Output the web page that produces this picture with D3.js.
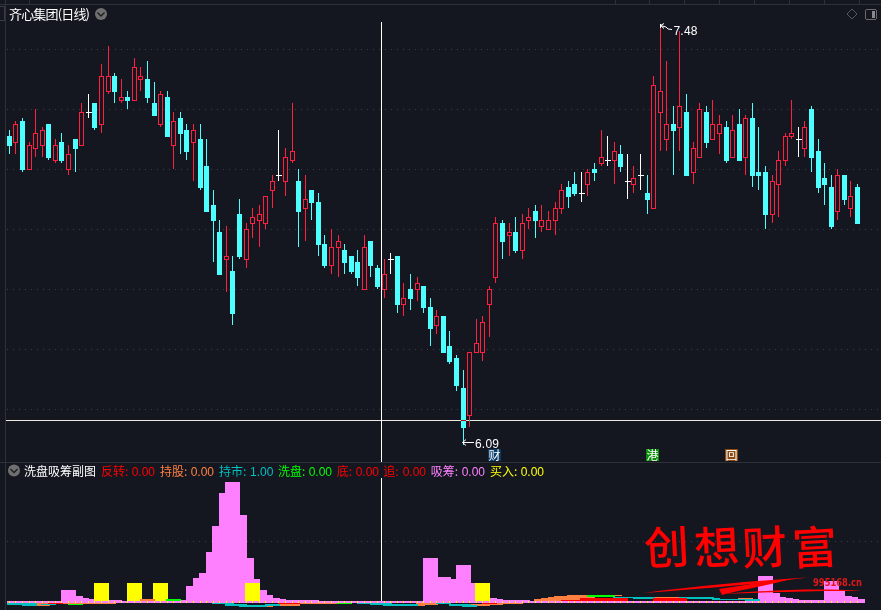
<!DOCTYPE html>
<html><head><meta charset="utf-8">
<script src="https://cdn.jsdelivr.net/npm/d3@7/dist/d3.min.js"></script>
<style>html,body{margin:0;padding:0;background:#141720;overflow:hidden}svg{display:block}
text{font-family:"Noto Sans CJK SC","Liberation Sans",sans-serif}</style></head><body>
<div id="chart"></div>
<script>
// prices in fen (1/100 yuan)
const opens=[712,710,717,701,708,709,716,704,710,701,711,709,720,723,716,727,732,724,725,724,731,731,723,716,725,709,718,714,710,711,702,689,680,671,667,686,671,683,684,683,694,699,697,704,697,688,694,690,676,669,675,674,672,670,661,677,668,661,671,672,656,661,661,662,655,649,652,642,638,628,619,640,640,656,665,683,679,680,674,684,687,682,681,684,688,695,696,693,696,701,703,704,704,706,697,696,699,693,688,720,711,716,715,720,700,705,720,711,713,715,705,716,705,718,700,700,686,696,704,712,711,708,721,707,698,695,687,699,688,695];
const closes=[709,716,701,709,713,714,705,709,704,706,708,720,720,715,732,732,727,725,724,735,732,725,719,726,712,717,713,707,714,695,687,684,666,672,653,672,681,685,686,692,697,699,705,707,687,691,690,676,669,675,677,670,667,665,675,669,662,666,671,656,658,658,663,655,648,652,640,637,629,615,640,643,650,661,683,677,680,674,683,685,684,684,684,688,694,692,693,693,700,700,705,704,707,702,697,698,699,691,729,727,716,714,722,699,708,721,710,716,716,704,714,704,718,699,699,686,697,704,712,713,711,715,705,695,696,682,699,691,692,683];
const highs=[714,717,718,710,721,715,716,711,713,709,711,723,726,723,736,742,733,731,727,738,735,737,730,727,727,720,720,716,716,716,711,694,684,682,672,691,683,688,689,692,699,714,708,723,701,699,694,693,679,681,679,676,672,674,679,677,669,671,673,672,663,666,665,662,658,654,652,647,639,634,640,651,652,662,685,684,683,685,686,688,689,689,687,690,696,697,700,700,701,703,714,712,710,709,706,702,706,699,732,748,737,722,747,726,710,723,722,724,719,717,719,721,719,723,715,702,699,707,713,724,715,717,722,711,703,699,701,699,697,696];
const lows=[706,706,700,701,705,705,704,703,703,699,700,709,718,714,713,726,723,723,721,724,727,723,719,715,712,701,706,704,697,694,687,670,666,660,649,671,668,678,675,681,688,697,692,703,675,677,684,672,668,666,665,666,666,662,661,665,661,658,666,653,652,654,657,653,642,646,640,636,627,609,615,640,637,645,663,671,672,673,671,681,678,680,681,679,686,688,692,690,692,697,702,702,696,700,691,693,694,686,688,707,707,699,707,699,696,705,708,711,706,703,705,704,699,695,694,681,683,685,702,711,705,705,700,693,689,681,684,689,685,683];

// indicator sticks: [candle index, from, to]
const pinkPeaks=[[9,11.7],[10,5.7],[11,3.7],[12,2.7],[13,2],[14,1.7],[15,1.7],[16,1.7],[24,1.7],[25,1.7],[26,1.7],[27,1.7],[28,15.7],[29,23.7],[30,28.7],[31,49.7],[32,75.7],[33,108.7],[34,119.7],[35,86.7],[36,43.7],[37,22.7],[38,11.7],[39,6.7],[40,3.7],[41,2.7],[42,1.7],[43,1.7],[44,1.7],[45,1.7],[46,1.7],[64,43.7],[65,24.7],[66,24.7],[67,22.7],[68,22.7],[69,36.7],[70,18.7],[71,18.7],[72,18.7],[73,3.7],[74,2.7],[75,1.7],[76,1.7],[77,1.7],[78,1.7],[115,25.3],[116,8.5],[117,4.5],[118,3.5],[119,2.5],[120,1.5],[121,1.5],[122,1.5],[123,1.5],[124,1.5],[125,20.5],[126,10.5],[127,5.5],[128,4.5],[129,2.5]];
const yellowBuys=[[14,18.7],[19,18.7],[23,18.7],[37,18.7],[72,18.7]];
const orangeBands=[[5,-4.3,-1.7],[9,-2.7,-.5],[10,-2.7,-.5],[11,-2.7,-.5],[12,-2,-.3],[13,-2,-.3],[14,-2,-.3],[15,-2,-.3],[16,-1.3,-.3],[17,-1.3,-.3],[18,-1.3,-.3],[21,.5,3],[39,-5.3,-3.3],[42,-4,-2.3],[43,-4,-2.3],[44,-2.7,-1.3],[45,-2.7,-1.3],[46,-2.7,-1.3],[47,-2.7,-1.3],[48,-2,-.7],[49,-2,-.7],[52,-1.7,-.7],[62,-4.3,-2.5],[63,-3,-1.8],[64,-3,-1.8],[71,-4.3,-2.5],[72,-4.3,-2.5],[73,-3.3,-2],[74,-3.3,-2],[75,-2.7,-.8],[76,-2.7,-.8],[77,-2.7,-.8],[78,-1.5,-.3],[81,.7,2.7],[82,.7,3.7],[83,.7,4.7],[84,.7,5.7],[85,.7,5.7],[86,.7,6.7],[87,.7,6.7],[88,.7,6.7],[92,5.5,6.5],[99,4,5],[100,4,5],[101,4,5],[112,2.7,4]];
const greenBands=[[10,-3.7,-2.7],[25,.5,2.7],[51,-2.3,-.3],[53,-1.7,-.3],[89,4.3,6.5],[90,4.3,6.5],[91,4.3,6.5]];
const tealBands=[[0,-3,-1],[1,-3,-1],[3,-4.3,-1.7],[6,-3.3,-2.3],[30,-1.7,-.3],[31,-1.7,-.3],[32,-2.7,-1.3],[33,-2.7,-1.3],[34,-4,-2],[35,-4,-2],[36,-5.3,-3.3],[37,-5.3,-3.3],[38,-5,-3],[40,-4,-2.5],[54,-2.3,-.7],[55,-2.3,-.7],[56,-3,-1.5],[57,-3.5,-1.7],[58,-4.3,-2.5],[59,-4.3,-2.5],[60,-4.3,-2.5],[61,-4.3,-2.5],[66,-2.5,-1.3],[68,-4,-2.3],[69,-4,-2.3],[70,-5.3,-3.3],[93,3.7,4.3],[94,4,5],[95,4,5],[96,3,5],[97,3,5],[103,3,5],[104,3,5],[105,3,5],[106,3,5],[107,2.7,4],[108,1.7,3],[109,1.7,3],[110,1.7,3],[111,1.7,3],[113,1,2.7],[125,-1.3,-.7],[126,-1.3,-.7],[127,-1.3,-.7],[128,-1.3,-.7],[129,-1.3,-.7]];
const redBands=[[7,-2.5,-.3],[42,-2.3,-.3],[43,-2.3,-.3],[44,-1.3,-.3],[45,-1.3,-.3],[46,-1.3,-.3],[47,-1.3,-.3],[73,-2,-.3],[85,.7,1.7],[86,.7,1.7],[87,.7,1.7],[88,.7,3.3],[89,.7,3.3],[90,.7,3.3],[91,.7,3.3],[92,.7,3.3],[93,.7,3.3],[99,.7,4],[100,.7,4],[101,.7,4],[102,.7,4]];

const legendLabels=["反转:","持股:","持市:","洗盘:","底:","追:","吸筹:","买入:"];
const legendValues=["0.00","0.00","1.00","0.00","0.00","0.00","0.00","0.00"];
const legendColors=["#ff0000","#ff8040","#00c0c0","#00ff00","#ff0000","#ff0000","#ff80ff","#ffff00"];
const legendLabelX=[101,160,219,278,336.7,383.3,430.7,490];
const legendValueX=[131.7,190.7,250,308.7,355.7,402.7,461.7,520.7];

const W=881,H=610,BG="#141720",RED="#ff2040",CYAN="#4dffff",LINE="#2e3138",GRID="#3b3e46";
const svg=d3.select("#chart").append("svg").attr("width",W).attr("height",H).style("background",BG);
const x=d3.scaleLinear().domain([0,129]).range([9.4,857.5]);
const y=d3.scaleLinear().domain([609,748]).range([445,28]);
const sy=d3.scaleLinear().domain([0,120]).range([601.5,481.5]);
const px=i=>Math.floor(x(i));
const crisp=s=>s.attr("shape-rendering","crispEdges");

// frame
const frame=svg.append("g");
crisp(frame.append("line").attr("x1",0).attr("x2",W).attr("y1",4.5).attr("y2",4.5).attr("stroke",LINE));
crisp(frame.append("line").attr("x1",5.5).attr("x2",5.5).attr("y1",0).attr("y2",H).attr("stroke",LINE));
crisp(frame.append("line").attr("x1",0).attr("x2",W).attr("y1",462.5).attr("y2",462.5).attr("stroke",LINE));
crisp(frame.append("rect").attr("x",-2).attr("y",6.5).attr("width",6.5).attr("height",14).attr("fill","none").attr("stroke","#3a3d44"));
[29,615,649,684,719,754,789,824,859].forEach(t=>crisp(frame.append("line").attr("x1",t+.5).attr("x2",t+.5).attr("y1",0).attr("y2",4).attr("stroke",LINE)));

// dotted grid
const grid=svg.append("g");
[49.5,109.5,169.5,229.5,289.5,349.5,409.5,541.5].forEach(g=>crisp(grid.append("line").attr("x1",7).attr("x2",W).attr("y1",g).attr("y2",g).attr("stroke",GRID).attr("stroke-dasharray","1 5")));

// candles
const idx=d3.range(opens.length);
const candles=svg.append("g").selectAll("g").data(idx).join("g");
candles.each(function(i){
  const g=d3.select(this),o=opens[i],c=closes[i],X=px(i)+.5;
  const col=o===c?"#ffffff":(c>o?RED:CYAN);
  const top=Math.max(o,c),bot=Math.min(o,c);
  const wick=(a,b)=>{if(y(a)!==y(b))crisp(g.append("line").attr("x1",X).attr("x2",X).attr("y1",y(a)).attr("y2",y(b)).attr("stroke",col));};
  if(o===c){wick(highs[i],lows[i]);crisp(g.append("line").attr("x1",X-2.5).attr("x2",X+3).attr("y1",y(c)+.5).attr("y2",y(c)+.5).attr("stroke",col));}
  else if(c>o){wick(highs[i],top);wick(bot,lows[i]);
    crisp(g.append("rect").attr("x",X-2).attr("y",y(top)+.5).attr("width",4).attr("height",y(bot)-y(top)).attr("fill",BG).attr("stroke",col));}
  else{wick(highs[i],lows[i]);
    crisp(g.append("rect").attr("x",X-2.5).attr("y",y(top)).attr("width",5).attr("height",y(bot)-y(top)+1).attr("fill",col));}
});

// crosshair
const cross=svg.append("g").style("mix-blend-mode","difference");
crisp(cross.append("line").attr("x1",6).attr("x2",W).attr("y1",420.5).attr("y2",420.5).attr("stroke","#ffffff"));
const vx=381.5;
crisp(svg.append("line").attr("x1",vx).attr("x2",vx).attr("y1",22).attr("y2",462).attr("stroke","#ffffff"));
crisp(svg.append("line").attr("x1",vx).attr("x2",vx).attr("y1",478).attr("y2",605).attr("stroke","#ffffff"));

// indicator pane
const clipId="subclip";
svg.append("clipPath").attr("id",clipId).append("rect").attr("x",7).attr("y",465).attr("width",W-7).attr("height",145);
const sub=svg.append("g").attr("clip-path",`url(#${clipId})`);
const STICK=15;
const sticks=(rows,color)=>sub.append("g").selectAll("rect").data(rows).join("rect")
  .attr("x",d=>x(d[0])-STICK/2).attr("width",STICK)
  .attr("y",d=>sy(Math.max(d[1],d.length>2?d[2]:0))).attr("height",d=>Math.abs(sy(d.length>2?d[2]:0)-sy(d[1])))
  .attr("fill",color).attr("shape-rendering","crispEdges");
sticks(pinkPeaks,"#ff80ff");
sticks(yellowBuys,"#ffff00");
sticks(orangeBands,"#ff8040");
sticks(greenBands,"#00ff00");
sticks(tealBands,"#00c0c0");
sticks(redBands,"#ff0000");
crisp(sub.append("rect").attr("x",7).attr("y",sy(0)-.5).attr("width",x(129)+7.5-7).attr("height",1.5).attr("fill","#ff80ff"));
sub.append("g").selectAll("rect").data(idx).join("rect").attr("x",i=>px(i)).attr("y",sy(0)-.5).attr("width",1).attr("height",1.5).attr("fill","#ffff00").attr("shape-rendering","crispEdges");

// legend background, then annotations and text on top
const leg=svg.append("g");
crisp(leg.append("rect").attr("x",7).attr("y",464).attr("width",530).attr("height",14).attr("fill",BG));

// high / low labels
const ann=svg.append("g");
ann.append("path").attr("d","M660.5 25.5 L664 23.5 M660.5 25.5 L664 28.5 M660.5 25.5 L666 27 L668 29 L672 29.5 M660.5 24 V28").attr("fill","none").attr("stroke","#fff");
ann.append("text").attr("x",673.5).attr("y",35).attr("fill","#fff").attr("font-size",12).style("font-family","Liberation Sans").attr("letter-spacing",".2").text("7.48");
ann.append("path").attr("d","M462.5 442.5 H474 M462.5 442.5 L466 439.5 M462.5 442.5 L466 445.5").attr("fill","none").attr("stroke","#fff");
ann.append("text").attr("x",475).attr("y",447.5).attr("fill","#fff").attr("font-size",12).style("font-family","Liberation Sans").attr("letter-spacing",".2").text("6.09");

// event badges
[["财",488,"#0b3a68"],["港",646,"#0a8a0a"],["回",725,"#8a4a10"]].forEach(([t,bx,c])=>{
  crisp(ann.append("rect").attr("x",bx).attr("y",449).attr("width",13).attr("height",12).attr("fill",c));
  ann.append("text").attr("x",bx+6.5).attr("y",459.5).attr("text-anchor","middle").attr("fill","#fff").attr("font-size",12).text(t);
});

// chevron buttons & titles
function chevron(cx,cy){
  ann.append("circle").attr("cx",cx).attr("cy",cy).attr("r",6).attr("fill","#6f6f6f");
  ann.append("path").attr("d",`M${cx-3.5} ${cy-1.5} L${cx} ${cy+2} L${cx+3.5} ${cy-1.5}`).attr("fill","none").attr("stroke","#1c1c1c").attr("stroke-width",1.3);
}
chevron(101,14);
chevron(14,470.5);
ann.append("text").attr("x",9).attr("y",19).attr("fill","#fff").attr("font-size",13).attr("textLength",81).text("齐心集团(日线)");
ann.append("path").attr("d","M852 9 L857 14 L852 19 L847 14 Z").attr("fill","none").attr("stroke","#55585e");
crisp(ann.append("rect").attr("x",865.5).attr("y",9.5).attr("width",11).attr("height",10).attr("rx",2).attr("fill","none").attr("stroke","#6a6a6a"));
crisp(ann.append("rect").attr("x",872).attr("y",11).attr("width",3).attr("height",7).attr("fill","#8a8a8a"));

leg.append("text").attr("x",24).attr("y",475.5).attr("fill","#fff").attr("font-size",12).text("洗盘吸筹副图");
legendLabels.forEach((t,i)=>{
  leg.append("text").attr("x",legendLabelX[i]).attr("y",475.5).attr("fill",legendColors[i]).attr("font-size",12).text(t);
  leg.append("text").attr("x",legendValueX[i]).attr("y",475.5).attr("fill",legendColors[i]).attr("font-size",12).style("font-family","Liberation Sans").text(legendValues[i]);
});

// watermark
const wm=svg.append("g").attr("fill","#ff0000");
[["创",644],["想",694],["财",742],["富",792]].forEach(([t,tx])=>{
  wm.append("text").attr("x",tx).attr("y",564).attr("font-size",45).attr("font-weight",500).attr("transform",`rotate(-3 ${tx+22} 545)`).text(t);
});
wm.append("path").attr("d","M643 593 C690 587 750 581 807 577.5 C770 583 700 589 643 593 Z");
wm.append("path").attr("d","M719 589 C745 585 770 581 790 579 C775 584 740 590 722 595 Z");
wm.append("path").attr("d","M722 594 C770 590 820 588 862 591 C820 590.5 770 592 722 594 Z");
wm.append("text").attr("x",813).attr("y",586).attr("font-size",10).attr("font-weight",700).style("font-family","DejaVu Sans").attr("textLength",49).attr("lengthAdjust","spacingAndGlyphs").attr("fill","#e01818").text("995168.cn");
</script></body></html>
